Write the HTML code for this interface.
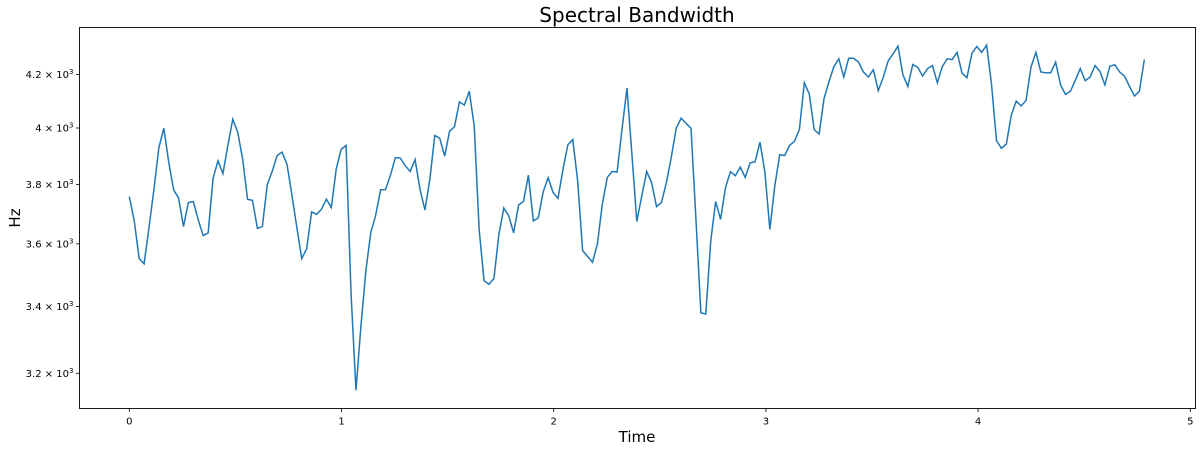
<!DOCTYPE html>
<html><head><meta charset="utf-8"><style>
body{margin:0;background:#fff;}
svg{display:block;font-family:"DejaVu Sans","Liberation Sans",sans-serif;}
</style></head><body>
<svg id="chart" width="1201" height="451">
<text x="637" y="22" font-size="20" text-anchor="middle">Spectral Bandwidth</text>
<text x="637" y="442" font-size="15" text-anchor="middle">Time</text>
<text x="20" y="218" font-size="15" text-anchor="middle" transform="rotate(-90 20 218)">Hz</text>
<g id="axes"></g>
<path id="line" fill="none" stroke="#1f77b4" stroke-width="1.5"/>
<rect x="79.5" y="27.5" width="1116" height="381" fill="none" stroke="#000" stroke-width="0.9"/>
</svg>
<script>
const dt = 512/22050;
const bandwidth = [3758,3676,3552,3535,3654,3783,3929,3999,3878,3781,3753,3657,3738,3741,3679,3627,3636,3821,3882,3837,3937,4032,3985,3889,3749,3745,3651,3657,3799,3845,3901,3913,3870,3764,3654,3552,3584,3706,3698,3715,3749,3721,3854,3923,3937,
3442,3151,3338,3511,3636,3695,3781,3782,3832,3894,3892,3865,3845,3887,3783,3712,3818,3973,3963,3899,3988,4005,4096,4084,4136,4008,3647,3481,3470,3488,3630,3719,3693,3636,3729,3742,3832,3676,3686,3774,3823,3772,3752,3851,3939,
3958,3812,3578,3559,3540,3599,3732,3824,3845,3843,3996,4148,3907,3674,3760,3845,3806,3724,3738,3806,3895,3999,4036,4017,3999,3681,3381,3377,3608,3741,3681,3789,3844,3830,3860,3824,3875,3879,3949,3842,3647,3794,3904,3901,3937,
3952,3995,4168,4126,3994,3978,4109,4172,4230,4260,4190,4262,4262,4247,4209,4190,4218,4138,4188,4251,4279,4309,4199,4154,4238,4227,4194,4222,4234,4168,4230,4260,4257,4285,4205,4187,4281,4308,4285,4313,4160,3954,3927,3942,4047,4099,4081,
4102,4228,4285,4209,4206,4206,4247,4160,4124,4136,4178,4222,4176,4190,4234,4211,4160,4231,4237,4209,4193,4154,4118,4136,4257];
const xTicks = [0,1,2,3,4,5];
const yTicks = [3200,3400,3600,3800,4000,4200];
const yTickLabels = ["3.2","3.4","3.6","3.8","4","4.2"];

const X0=79.5, X1=1195.5, Y0=408.5, Y1=27.5;
const xMin=-0.2347, xMax=5.0245, yMin=3099, yMax=4383;
function sx(v){return X0+(v-xMin)/(xMax-xMin)*(X1-X0);}
function sy(v){return Y0-(Math.log10(v)-Math.log10(yMin))/(Math.log10(yMax)-Math.log10(yMin))*(Y0-Y1);}
const NS="http://www.w3.org/2000/svg";
const g=document.getElementById('axes');
function mk(t,a){const e=document.createElementNS(NS,t);for(const k in a)e.setAttribute(k,a[k]);g.appendChild(e);return e;}
xTicks.forEach(v=>{
  const x=sx(v);
  const t=mk('line',{x1:x,x2:x,y1:Y0,y2:Y0+3.5,stroke:'#000','stroke-width':0.8});
  
  
  const l=mk('text',{x:x,y:Y0+16,'font-size':10,'text-anchor':'middle'});
  l.textContent=v;
  
  
});
yTicks.forEach((v,i)=>{
  const y=sy(v);
  const t=mk('line',{x1:X0-3.5,x2:X0,y1:y,y2:y,stroke:'#000','stroke-width':0.8});
  
  
  const l=mk('text',{x:X0-6,y:y+3.5,'font-size':10,'text-anchor':'end'});
  l.innerHTML=yTickLabels[i]+' \u00d7 10<tspan font-size="7" dy="-4">3</tspan>';
  
  
});
document.getElementById('line').setAttribute('d',bandwidth.map((v,i)=>(i?'L':'M')+sx(i*dt).toFixed(2)+','+sy(v).toFixed(2)).join(''));
</script>
</body></html>
